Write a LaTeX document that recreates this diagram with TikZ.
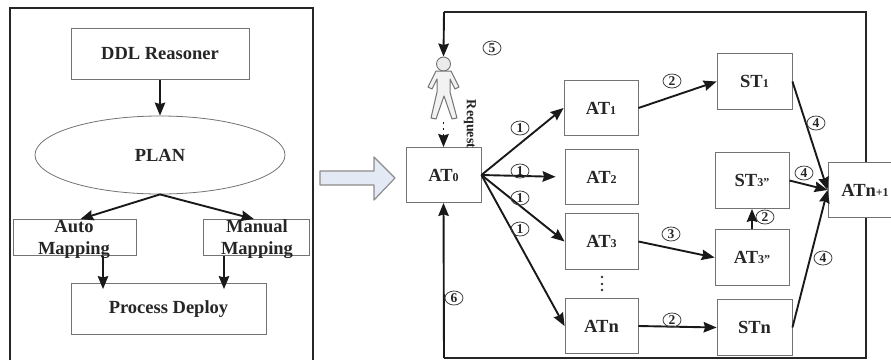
\documentclass[tikz,border=0pt]{standalone}
\usepackage{fontspec}
\setmainfont{Liberation Serif}
\usetikzlibrary{arrows.meta,shapes.geometric,calc,backgrounds}
\newcommand{\sm}[1]{{\fontsize{12}{12}\selectfont #1}}
\tikzset{
  x=1pt,y=-1pt,
  boxst/.style={draw=black!55,line width=.85pt,fill=white,inner sep=0pt,font=\fontsize{18.5}{21}\selectfont\bfseries,text=black!85},
  lbl/.style={inner sep=0pt,align=center,font=\fontsize{18.5}{22}\selectfont\bfseries,text=black!85},
  arr/.style={draw=black!90,line width=1.9pt,-{Stealth[length=13pt,width=10.5pt,inset=1.5pt]}},
  framest/.style={draw=black!85,line width=2pt},
  num/.style={ellipse,draw=black!75,line width=.8pt,minimum width=18pt,minimum height=14pt,inner sep=0pt,font=\fontsize{13.5}{13.5}\selectfont\bfseries,text=black!85},
  dotst/.style={circle,fill=black!80,minimum size=2.8pt,inner sep=0pt}
}
\newcommand{\bx}[6]{\node[boxst,minimum width=#4pt-#3pt,minimum height=#6pt-#5pt] (#1) at ({(#3+#4)/2},{(#5+#6)/2+.5}) {#2};}
\begin{document}
\begin{tikzpicture}
\useasboundingbox (0,0) rectangle (891,360);
% left panel
\coordinate (lbl) at (10,360); \coordinate (ltl) at (10,8); \coordinate (ltr) at (313,8); \coordinate (lbr) at (313,360);
\draw[framest] (lbl) -- (ltl) -- (ltr) -- (lbr);
\bx{ddl}{DDL Reasoner}{71}{249}{28}{79}
\node[ellipse,draw=black!55,line width=.8pt,fill=white,minimum width=250pt,minimum height=78pt,inner sep=0pt,font=\fontsize{18.5}{21}\selectfont\bfseries,text=black!85] (plan) at (160,155) {PLAN};
\bx{auto}{}{13}{136}{219}{255}
\bx{manual}{}{203}{309}{219}{255}
\bx{proc}{Process Deploy}{71}{266}{283}{334}
\node[lbl] (autot) at (74,239) {Auto\\Mapping};
\node[lbl] (mant) at (257,239) {Manual\\Mapping};
\draw[arr] (ddl.south) -- (plan.north);
\draw[arr] (plan.south) -- ($(auto.north)+(6,0)$);
\draw[arr] (plan.south) -- ($(manual.north)+(-2,0)$);
\draw[arr,shorten >=-6pt] ($(auto.south)+(28.5,0)$) -- ($(proc.north)+(-65.5,0)$);
\draw[arr,shorten >=-6pt] ($(manual.south)+(-32,0)$) -- ($(proc.north)+(55.5,0)$);
% block arrow
\coordinate (ba1) at (320,171); \coordinate (ba2) at (374,171); \coordinate (ba3) at (374,157);
\coordinate (ba4) at (395,178); \coordinate (ba5) at (374,200); \coordinate (ba6) at (374,185); \coordinate (ba7) at (320,185);
\definecolor{bafill}{RGB}{228,234,245}
\draw[draw=black!45,line width=1.2pt,fill=bafill,line join=round] (ba1) -- (ba2) -- (ba3) -- (ba4) -- (ba5) -- (ba6) -- (ba7) -- cycle;
% right panel
\bx{at0}{AT\sm{0}}{406}{481}{147}{202}
\bx{at1}{AT\sm{1}}{564}{638}{80}{135}
\bx{at2}{AT\sm{2}}{565}{638}{149}{204}
\bx{at3}{AT\sm{3}}{565}{638}{213}{269}
\bx{atn}{ATn}{565}{638}{298}{353}
\bx{st1}{ST\sm{1}}{717}{792}{53}{109}
\bx{st3}{ST\sm{3''}}{715}{789}{152}{208}
\bx{at3b}{AT\sm{3''}}{715}{789}{229}{285}
\bx{stn}{STn}{717}{792}{299}{355}
\bx{atm}{ATn\sm{+1}}{828}{902}{162}{217}
% person
\node[circle,draw=black!55,line width=.9pt,fill=blue!8!black!8,minimum size=14pt,inner sep=0pt] (head) at (443.5,64) {};
\draw[draw=black!55,line width=1pt,fill=blue!5!black!5,line join=round] (436,71) -- (451,71) -- (459,87) -- (455,89) -- (450,79) -- (450,92) -- (457,118) -- (452,119) -- (444,96) -- (436,119) -- (431,118) -- (437,92) -- (437,79) -- (432,89) -- (428,87) -- cycle;
\coordinate (feet) at (443.5,119);
\draw[draw=black!90,line width=1.9pt,dash pattern=on 2.5pt off 3.5pt,{Stealth[length=13pt,width=10.5pt,inset=1.5pt]}-] (at0.north) -- (feet);
\begin{scope}[on background layer]
\coordinate (rbl) at (444,358); \coordinate (rbr) at (866,358); \coordinate (rtr) at (866,12); \coordinate (rtl) at (444,12);
\draw[framest] (rbl) -- (rbr) -- (rtr) -- (rtl);
\end{scope}
\draw[arr] (rbl) -- (at0.south);
\draw[arr] (rtl) -- (head.north);
\node[rotate=-90,inner sep=0pt,font=\fontsize{14}{14}\selectfont\bfseries,text=black!85] (req) at (470,124) {Request};
\node[dotst] (d1) at (602,277) {};
\node[dotst] (d2) at (602,284) {};
\node[dotst] (d3) at (602,290) {};
% connectors
\draw[arr] (at0.east) -- (at1.west);
\draw[arr,shorten >=9pt] (at0.east) -- (at2.west);
\draw[arr] (at0.east) -- (at3.west);
\draw[arr] (at0.east) -- (atn.west);
\draw[arr] (at1.east) -- (st1.west);
\draw[arr] (at3.east) -- (at3b.west);
\draw[arr] (atn.east) -- (stn.west);
\draw[arr] (at3b.north) -- (st3.south);
\draw[arr] (st1.east) -- (atm.west);
\draw[arr] (st3.east) -- (atm.west);
\draw[arr] (stn.east) -- (atm.west);
% numbers
\node[num] (n1a) at (520,128) {1};
\node[num] (n1b) at (520,171) {1};
\node[num] (n1c) at (520,198) {1};
\node[num] (n1d) at (520,229) {1};
\node[num] (n2a) at (672,81) {2};
\node[num] (n3) at (671,234) {3};
\node[num] (n2b) at (672,320) {2};
\node[num] (n2c) at (765,217) {2};
\node[num] (n4a) at (816,123) {4};
\node[num] (n4b) at (804,173) {4};
\node[num] (n4c) at (823,258) {4};
\node[num] (n5) at (492,48) {5};
\node[num] (n6) at (454,298) {6};
\end{tikzpicture}
\end{document}
